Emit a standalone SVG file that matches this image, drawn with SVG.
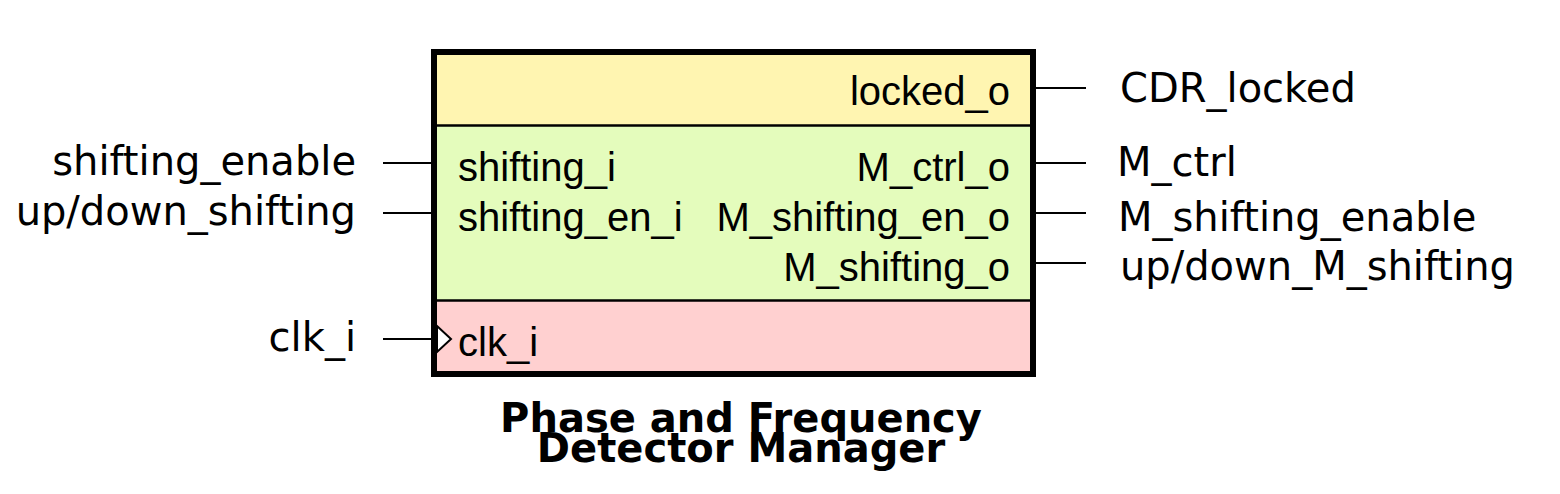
<svg xmlns="http://www.w3.org/2000/svg" width="1560" height="494" viewBox="0 0 1560 494">
<style>
.port{font-family:"Liberation Sans",Arial,sans-serif;font-size:40px;fill:#000}
.sig{font-family:"DejaVu Sans",sans-serif;font-size:40px;fill:#000}
.title{font-family:"DejaVu Sans",sans-serif;font-size:40px;font-weight:bold;fill:#000;text-anchor:middle}
.wire{stroke:#000;stroke-width:2;fill:none}
.div{stroke:#000;stroke-width:2.5}
</style>
<rect width="1560" height="494" fill="#fff"/>
<g id="block">
<rect x="436" y="55" width="595" height="70" fill="#fff5b1"/>
<rect x="436" y="125" width="595" height="175" fill="#e4fcbc"/>
<rect x="436" y="300" width="595" height="73" fill="#ffd0d0"/>
<line class="div" x1="436" y1="125.5" x2="1031" y2="125.5"/>
<line class="div" x1="436" y1="300.5" x2="1031" y2="300.5"/>
<rect x="434" y="52" width="599" height="322" fill="none" stroke="#000" stroke-width="6"/>
<polygon points="437,326 451,339 437,352" fill="#fff" stroke="#000" stroke-width="2"/>
<text class="port" x="1010" y="105" text-anchor="end">locked_o</text>
<text class="port" x="458" y="181">shifting_i</text>
<text class="port" x="1010" y="181" text-anchor="end">M_ctrl_o</text>
<text class="port" x="458" y="231">shifting_en_i</text>
<text class="port" x="1010" y="231" text-anchor="end">M_shifting_en_o</text>
<text class="port" x="1010" y="281" text-anchor="end">M_shifting_o</text>
<text class="port" x="458" y="356">clk_i</text>
</g>
<g id="connectors">
<line class="wire" x1="383" y1="163" x2="434" y2="163"/>
<line class="wire" x1="383" y1="213" x2="434" y2="213"/>
<line class="wire" x1="383" y1="339" x2="437" y2="339"/>
<line class="wire" x1="1034" y1="88" x2="1086" y2="88"/>
<line class="wire" x1="1034" y1="163" x2="1086" y2="163"/>
<line class="wire" x1="1034" y1="213" x2="1086" y2="213"/>
<line class="wire" x1="1034" y1="263" x2="1086" y2="263"/>
</g>
<g id="labels">
<text class="sig" x="356" y="175" text-anchor="end">shifting_enable</text>
<text class="sig" x="356" y="225" text-anchor="end">up/down_shifting</text>
<text class="sig" x="356" y="351" text-anchor="end">clk_i</text>
<text class="sig" x="1120" y="102">CDR_locked</text>
<text class="sig" x="1117" y="176">M_ctrl</text>
<text class="sig" x="1118" y="231">M_shifting_enable</text>
<text class="sig" x="1120" y="280">up/down_M_shifting</text>
</g>
<g id="title">
<text class="title" x="741" y="432">Phase and Frequency</text>
<text class="title" x="741" y="462">Detector Manager</text>
</g>
</svg>
